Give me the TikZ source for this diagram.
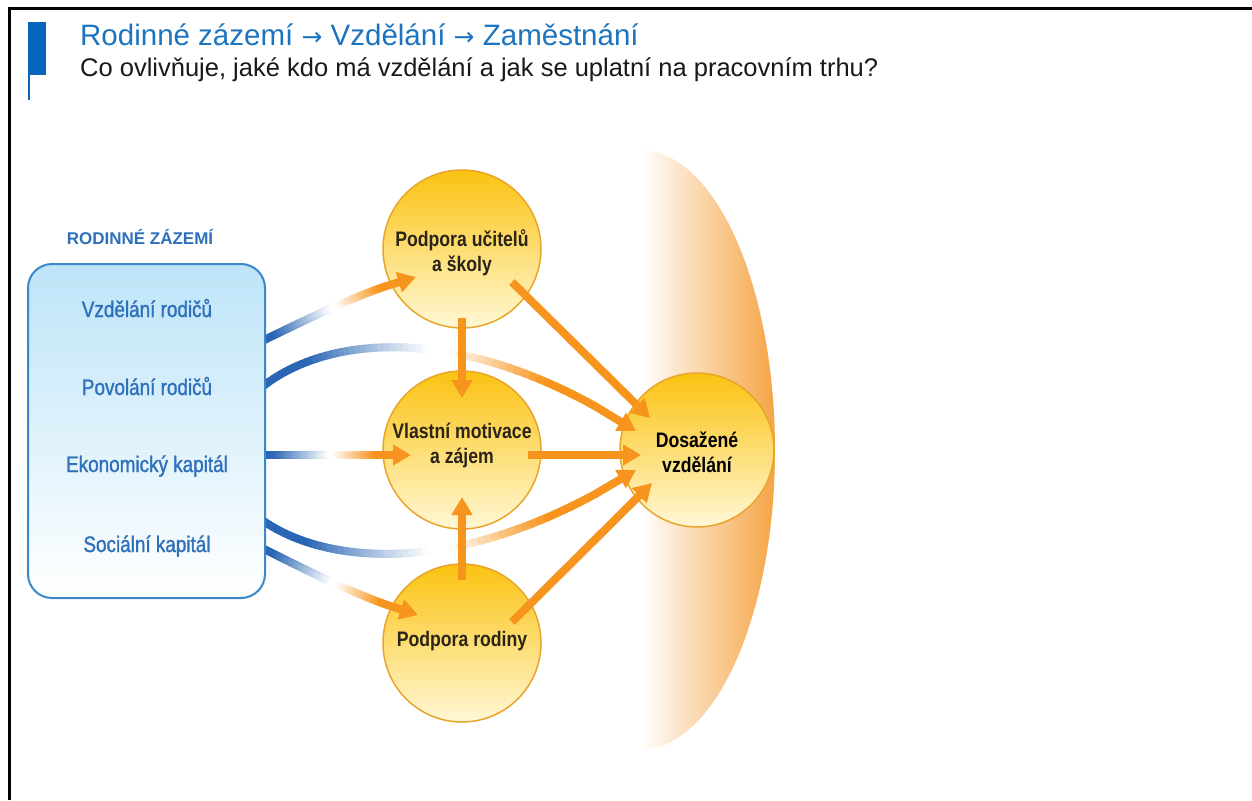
\documentclass[tikz,border=0pt]{standalone}
\usepackage{fontspec}
\setmainfont{Liberation Sans}
\newfontfamily\condfont[FakeStretch=0.84]{Liberation Sans}
\newfontfamily\condmed[FakeStretch=0.84,FakeBold=1.3]{Liberation Sans}
\newfontfamily\symfont{DejaVu Sans}
\usetikzlibrary{arrows.meta}
\definecolor{flowblue}{HTML}{2A66B4}
\definecolor{flow}{HTML}{F7941D}
\definecolor{titleblue}{HTML}{1C74C0}
\definecolor{barblue}{HTML}{0A66BC}
\definecolor{boxblue}{HTML}{3A87C9}
\definecolor{boxtop}{HTML}{BDE4F8}
\definecolor{labelblue}{HTML}{2E70BA}
\definecolor{circtop}{HTML}{FBC210}
\definecolor{circbot}{HTML}{FFF8D6}
\definecolor{circline}{HTML}{E9A52A}
\definecolor{halo}{HTML}{F5A445}
\definecolor{darktext}{HTML}{2B2418}

% gradient connector: #1 start, #2 c1, #3 c2, #4 end, #5 #6 blue fade, #7 #8 orange rise, #9 index where the tip part starts
\newcommand\gradarrow[9]{%
  \foreach \k in {0,...,60}{%
    \pgfmathsetmacro\gtt{\k/60}%
    \path (#1) .. controls (#2) and (#3) .. (#4) coordinate[pos=\gtt] (gp\k);
  }%
  \pgfmathtruncatemacro\glast{#9-1}%
  \foreach \k in {0,...,\glast}{%
    \pgfmathsetmacro\gt{(\k+0.5)/60}%
    \pgfmathtruncatemacro\kk{\k+1}%
    \pgfmathtruncatemacro\gbl{max(0,min(100,100*(#6-\gt)/(#6-#5)))}%
    \pgfmathtruncatemacro\gol{max(0,min(100,100*(\gt-#7)/(#8-#7)))}%
    \ifnum\gbl>0 \colorlet{segc}{flowblue!\gbl!white}\else\colorlet{segc}{flow!\gol!white}\fi
    \draw[segc, line width=8pt, line cap=round] (gp\k) -- (gp\kk);
  }%
  \draw[flowarrow] (gp#9) -- (#4);
}

\begin{document}
\begin{tikzpicture}[x=1pt,y=-1pt,
  flowarrow/.style={flow, line width=8pt, -{Triangle[length=18pt,width=20pt]}},
  circ/.style={circle, draw=circline, line width=1.5pt, top color=circtop, bottom color=circbot, minimum size=158pt, inner sep=0pt},
  ctext/.style={font=\condfont\bfseries\fontsize{21}{25}\selectfont, text=darktext, align=center, inner sep=0pt},
  boxlabel/.style={font=\condmed\fontsize{22.5}{27}\selectfont, text=labelblue, anchor=base, inner sep=0pt}]
\useasboundingbox (0,0) rectangle (1252,800);
\fill[white] (0,0) rectangle (1252,800);
\draw[line width=3pt] (9,800) -- (9,9) -- (1252,9);

% header
\fill[barblue] (28,22) rectangle (46,75);
\draw[barblue, line width=1.5pt] (28.75,75) -- (28.75,100);
\node[anchor=base west, text=titleblue, font=\fontsize{29.5}{36}\selectfont, inner sep=0pt] (title) at (80,46)
  {Rodinné zázemí {\symfont\fontsize{25}{25}\selectfont →} Vzdělání {\symfont\fontsize{25}{25}\selectfont →} Zaměstnání};
\node[anchor=base west, text=black!90, font=\fontsize{25.5}{30}\selectfont, inner sep=0pt] (subtitle) at (80,77) {Co ovlivňuje, jaké kdo má vzdělání a jak se uplatní na pracovním trhu?};

% halo behind the outcome
\shade[left color=white, middle color=halo!35!white, right color=halo]
  (640,150) -- plot[domain=-90:90, samples=80, variable=\a] ({640+135*cos(\a)}, {450+300*sin(\a)}) -- cycle;

% circles
\node[circ] (teach) at (462,249) {};
\node[circ] (motiv) at (462,450) {};
\node[circ] (fam) at (462,643) {};
\node[circ, minimum size=154pt] (edu) at (697,450) {};
\node[ctext] (teachtxt) at (462,253) {Podpora učitelů\\a školy};
\node[ctext] (motivtxt) at (462,445) {Vlastní motivace\\a zájem};
\node[ctext] (famtxt) at (462,641) {Podpora rodiny};
\node[ctext, text=black] (edutxt) at (697,452) {Dosažené\\vzdělání};

% gradient connectors from the family background
\coordinate (a1s) at (262,341); \coordinate (a1a) at (310,318); \coordinate (a1b) at (365,290); \coordinate (a1e) at (416,277);
\coordinate (a2s) at (262,387); \coordinate (a2a) at (330,333); \coordinate (a2b) at (470,322); \coordinate (a2e) at (636,431);
\coordinate (a3s) at (262,455); \coordinate (a3a) at (310,455); \coordinate (a3b) at (360,455); \coordinate (a3e) at (411,455);
\coordinate (a4s) at (262,520); \coordinate (a4a) at (330,568); \coordinate (a4b) at (470,576); \coordinate (a4e) at (636,470);
\coordinate (a5s) at (262,548); \coordinate (a5a) at (310,572); \coordinate (a5b) at (365,600); \coordinate (a5e) at (418,615);
\gradarrow{a1s}{a1a}{a1b}{a1e}{0.1}{0.47}{0.5}{0.78}{48}
\gradarrow{a2s}{a2a}{a2b}{a2e}{0.2}{0.55}{0.6}{0.82}{55}
\gradarrow{a3s}{a3a}{a3b}{a3e}{0.1}{0.47}{0.5}{0.78}{48}
\gradarrow{a4s}{a4a}{a4b}{a4e}{0.2}{0.55}{0.6}{0.82}{55}
\gradarrow{a5s}{a5a}{a5b}{a5e}{0.1}{0.47}{0.5}{0.78}{48}

% orange connectors
\coordinate (tm-s) at (462,318); \coordinate (tm-e) at (462,398);
\coordinate (fm-s) at (462,580); \coordinate (fm-e) at (462,497);
\coordinate (te-s) at (512,282); \coordinate (te-e) at (650,418);
\coordinate (me-s) at (528,455); \coordinate (me-e) at (641,455);
\coordinate (fe-s) at (512,622); \coordinate (fe-e) at (652,483);
\draw[flowarrow] (tm-s) -- (tm-e);
\draw[flowarrow] (fm-s) -- (fm-e);
\draw[flowarrow] (te-s) -- (te-e);
\draw[flowarrow] (me-s) -- (me-e);
\draw[flowarrow] (fe-s) -- (fe-e);

% family background box
\node[draw=boxblue, line width=2pt, rounded corners=24pt, top color=boxtop, bottom color=white, minimum width=237pt, minimum height=334pt, inner sep=0pt] (family) at (146.5,431) {};
\node[font=\bfseries\fontsize{17}{20}\selectfont, text=labelblue, inner sep=0pt, anchor=base] (familyhead) at (140,244) {RODINNÉ ZÁZEMÍ};
\node[boxlabel] (l1) at (147,317) {Vzdělání rodičů};
\node[boxlabel] (l2) at (147,395) {Povolání rodičů};
\node[boxlabel] (l3) at (147,472) {Ekonomický kapitál};
\node[boxlabel] (l4) at (147,552) {Sociální kapitál};
\end{tikzpicture}
\end{document}
